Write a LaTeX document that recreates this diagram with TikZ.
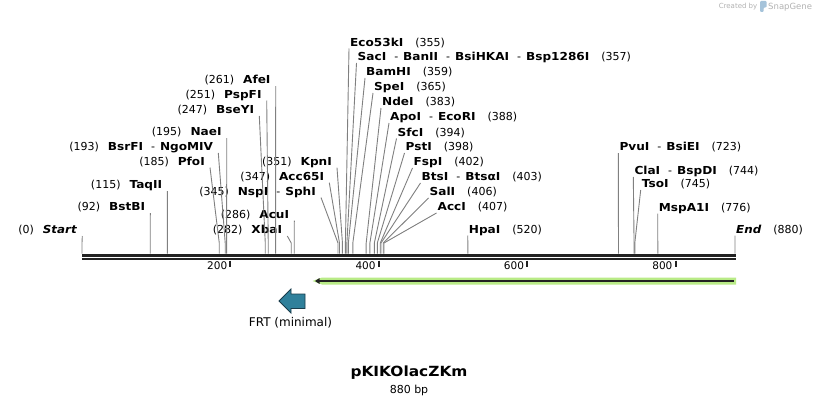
\documentclass[tikz,border=0pt]{standalone}
\usepackage{fontspec}
\setmainfont{DejaVu Sans}[BoldFeatures={FakeStretch=1.1}, BoldItalicFeatures={FakeStretch=1.08}]
\usetikzlibrary{positioning, arrows.meta}
\usepackage{xcolor}
\definecolor{cutgray}{RGB}{128,128,128}
\definecolor{seqdark}{RGB}{34,34,34}
\definecolor{featgreen}{RGB}{185,235,135}
\definecolor{frtteal}{RGB}{47,128,155}
\definecolor{frtedge}{RGB}{25,60,75}
\definecolor{brandgray}{RGB}{178,178,178}
\definecolor{brandblue}{RGB}{165,195,218}
\newcommand{\bpx}[1]{82+0.742*#1}
\newcommand{\en}[1]{\textbf{#1}}
\newcommand{\dsep}{\hspace{8pt}-\hspace{5pt}}
\newcommand{\lnum}[1]{(#1)\hspace{9pt}}
\newcommand{\rnum}[1]{\hspace{12pt}(#1)}
\tikzset{
	enz/.style={font=\fontsize{11}{13}\selectfont, inner ysep=0pt, text height=8pt, text depth=2pt},
	enz left/.style={enz, anchor=south east, inner xsep=5pt},
	enz right/.style={enz, anchor=south west, inner xsep=1pt},
	cut/.style={draw=cutgray, line width=0.9pt, to path={-- ([yshift=10.5pt]\tikztotarget) -- (\tikztotarget)}},
	tick/.style={seqdark, line width=2pt},
	ticklabel/.style={font=\fontsize{10.5}{12}\selectfont, anchor=east, inner sep=0pt}}

\begin{document}
\begin{tikzpicture}[x=1pt, y=-1pt]
		\fill[white] (0,0) rectangle (818,404);
		\useasboundingbox (0,0) rectangle (818,404);
		
		%Sites
		\coordinate (s0) at ({\bpx{0}},253.5);
		\coordinate (s92) at ({\bpx{92}},253.5);
		\coordinate (s115) at ({\bpx{115}},253.5);
		\coordinate (s185) at ({\bpx{185}},253.5);
		\coordinate (s193) at ({\bpx{193}},253.5);
		\coordinate (s195) at ({\bpx{195}},253.5);
		\coordinate (s247) at ({\bpx{247}},253.5);
		\coordinate (s251) at ({\bpx{251}},253.5);
		\coordinate (s261) at ({\bpx{261}},253.5);
		\coordinate (s282) at ({\bpx{282}},253.5);
		\coordinate (s286) at ({\bpx{286}},253.5);
		\coordinate (s345) at ({\bpx{345}},253.5);
		\coordinate (s347) at ({\bpx{347}},253.5);
		\coordinate (s351) at ({\bpx{351}},253.5);
		\coordinate (s355) at ({\bpx{355}},253.5);
		\coordinate (s357) at ({\bpx{357}},253.5);
		\coordinate (s359) at ({\bpx{359}},253.5);
		\coordinate (s365) at ({\bpx{365}},253.5);
		\coordinate (s383) at ({\bpx{383}},253.5);
		\coordinate (s388) at ({\bpx{388}},253.5);
		\coordinate (s394) at ({\bpx{394}},253.5);
		\coordinate (s398) at ({\bpx{398}},253.5);
		\coordinate (s402) at ({\bpx{402}},253.5);
		\coordinate (s403) at ({\bpx{403}},253.5);
		\coordinate (s406) at ({\bpx{406}},253.5);
		\coordinate (s407) at ({\bpx{407}},253.5);
		\coordinate (s520) at ({\bpx{520}},253.5);
		\coordinate (s723) at ({\bpx{723}},253.5);
		\coordinate (s744) at ({\bpx{744}},253.5);
		\coordinate (s745) at ({\bpx{745}},253.5);
		\coordinate (s776) at ({\bpx{776}},253.5);
		\coordinate (s880) at ({\bpx{880}},253.5);
		
		%Sequence
		\draw[seqdark, line width=3pt] (82,255) -- (736,255);
		\draw[seqdark, line width=1.7pt] (82,259) -- (736,259);
		\draw[tick] ({\bpx{200}},260.5) -- ++(0,6);
		\draw[tick] ({\bpx{400}},260.5) -- ++(0,6);
		\draw[tick] ({\bpx{600}},260.5) -- ++(0,6);
		\draw[tick] ({\bpx{800}},260.5) -- ++(0,6);
		\node[ticklabel] (t200) at ({\bpx{200}-3},266) {200};
		\node[ticklabel] (t400) at ({\bpx{400}-3},266) {400};
		\node[ticklabel] (t600) at ({\bpx{600}-3},266) {600};
		\node[ticklabel] (t800) at ({\bpx{800}-3},266) {800};
		
		%Left
		\node[enz left] (start) at (82.3,236) {\lnum{0}\textbf{\textit{Start}}};
		\node[enz left] (bstBI) at (150.3,213) {\lnum{92}\en{BstBI}};
		\node[enz left] (taqII) at (167.3,191) {\lnum{115}\en{TaqII}};
		\node[enz left] (pfoI) at (210,167.5) {\lnum{185}\en{PfoI}};
		\node[enz left] (bsrFI) at (218.3,153) {\lnum{193}\en{BsrFI}\dsep\en{NgoMIV}};
		\node[enz left] (naeI) at (226.7,138) {\lnum{195}\en{NaeI}};
		\node[enz left] (bseYI) at (259.3,116) {\lnum{247}\en{BseYI}};
		\node[enz left] (pspFI) at (266.7,100.5) {\lnum{251}\en{PspFI}};
		\node[enz left] (afeI) at (275.7,86) {\lnum{261}\en{AfeI}};
		\node[enz left] (xbaI) at (287.3,236) {\lnum{282}\en{XbaI}};
		\node[enz left] (acuI) at (294.3,220.5) {\lnum{286}\en{AcuI}};
		\node[enz left] (nspI) at (321,197.5) {\lnum{345}\en{NspI}\dsep\en{SphI}};
		\node[enz left] (acc65I) at (329.3,182.7) {\lnum{347}\en{Acc65I}};
		\node[enz left] (kpnI) at (337,167.7) {\lnum{351}\en{KpnI}};
		
		%Right
		\node[enz right] (eco53kI) at (349,48.5) {\en{Eco53kI}\rnum{355}};
		\node[enz right] (sacI) at (356.5,63) {\en{SacI}\dsep\en{BanII}\dsep\en{BsiHKAI}\dsep\en{Bsp1286I}\rnum{357}};
		\node[enz right] (bamHI) at (365,78) {\en{BamHI}\rnum{359}};
		\node[enz right] (speI) at (373,93) {\en{SpeI}\rnum{365}};
		\node[enz right] (ndeI) at (381,108) {\en{NdeI}\rnum{383}};
		\node[enz right] (apoI) at (389,123) {\en{ApoI}\dsep\en{EcoRI}\rnum{388}};
		\node[enz right] (sfcI) at (396.5,138.5) {\en{SfcI}\rnum{394}};
		\node[enz right] (pstI) at (404.5,153) {\en{PstI}\rnum{398}};
		\node[enz right] (fspI) at (412.5,168) {\en{FspI}\rnum{402}};
		\node[enz right] (btsI) at (420.5,183) {\en{BtsI}\dsep\en{BtsαI}\rnum{403}};
		\node[enz right] (salI) at (428.5,198) {\en{SalI}\rnum{406}};
		\node[enz right] (accI) at (436.5,213) {\en{AccI}\rnum{407}};
		\node[enz right] (hpaI) at (467.7,235.5) {\en{HpaI}\rnum{520}};
		\node[enz right] (pvuI) at (618.3,153) {\en{PvuI}\dsep\en{BsiEI}\rnum{723}};
		\node[enz right] (claI) at (633.3,177) {\en{ClaI}\dsep\en{BspDI}\rnum{744}};
		\node[enz right] (tsoI) at (640.7,190) {\en{TsoI}\rnum{745}};
		\node[enz right] (mspA1I) at (657.7,213.5) {\en{MspA1I}\rnum{776}};
		\node[enz right] (end) at (735,235.5) {\textbf{\textit{End}}\rnum{880}};
		
		\draw
		(start.south east) edge[cut] (s0)
		(bstBI.south east) edge[cut] (s92)
		(taqII.south east) edge[cut] (s115)
		(pfoI.south east) edge[cut] (s185)
		(bsrFI.south east) edge[cut] (s193)
		(naeI.south east) edge[cut] (s195)
		(bseYI.south east) edge[cut] (s247)
		(pspFI.south east) edge[cut] (s251)
		(afeI.south east) edge[cut] (s261)
		(xbaI.south east) edge[cut] (s282)
		(acuI.south east) edge[cut] (s286)
		(nspI.south east) edge[cut] (s345)
		(acc65I.south east) edge[cut] (s347)
		(kpnI.south east) edge[cut] (s351)
		
		(eco53kI.south west) edge[cut] (s355)
		(sacI.south west) edge[cut] (s357)
		(bamHI.south west) edge[cut] (s359)
		(speI.south west) edge[cut] (s365)
		(ndeI.south west) edge[cut] (s383)
		(apoI.south west) edge[cut] (s388)
		(sfcI.south west) edge[cut] (s394)
		(pstI.south west) edge[cut] (s398)
		(fspI.south west) edge[cut] (s402)
		(btsI.south west) edge[cut] (s403)
		(salI.south west) edge[cut] (s406)
		(accI.south west) edge[cut] (s407)
		(hpaI.south west) edge[cut] (s520)
		(pvuI.south west) edge[cut] (s723)
		(claI.south west) edge[cut] (s744)
		(tsoI.south west) edge[cut] (s745)
		(mspA1I.south west) edge[cut] (s776)
		(end.south west) edge[cut] (s880)
		;
		
		%Features
		\fill[featgreen] (736,277.5) -- (322,277.5) -- (312.5,281) -- (322,284.5) -- (736,284.5) -- cycle;
		\draw[seqdark, line width=1.8pt, -{Triangle[length=4.5pt, width=5.5pt]}] (734,281) -- (315,281);
		\filldraw[fill=frtteal, draw=frtedge, line width=0.8pt] (279,301) -- (291,289) -- (291,294) -- (305,294) -- (305,308.5) -- (291,308.5) -- (291,313) -- cycle;
		\node[font=\fontsize{12}{14}\selectfont, inner sep=0pt] (frt) at (290.5,322.5) {FRT (minimal)};
		
		%Title
		\node[font=\bfseries\fontsize{14}{16}\selectfont, inner sep=0pt] (title) at (409,372.5) {pKIKOlacZKm};
		\node[font=\fontsize{11}{13}\selectfont, inner sep=0pt, below=5pt of title] (size) {880 bp};
		
		%Brand
		\node[font=\fontsize{7}{8}\selectfont, text=brandgray, anchor=east, inner sep=0pt] (made) at (757.5,7) {Created by};
		\fill[brandblue, rounded corners=1pt] (760,1) -- (766.5,1) -- (766.5,7.5) -- (763.5,7.5) -- (763.5,12) -- (760,12) -- cycle;
		\node[font=\fontsize{8.5}{9}\selectfont, text=brandgray, anchor=west, inner sep=0pt] (brand) at (768,7) {SnapGene};
	\end{tikzpicture}
\end{document}
